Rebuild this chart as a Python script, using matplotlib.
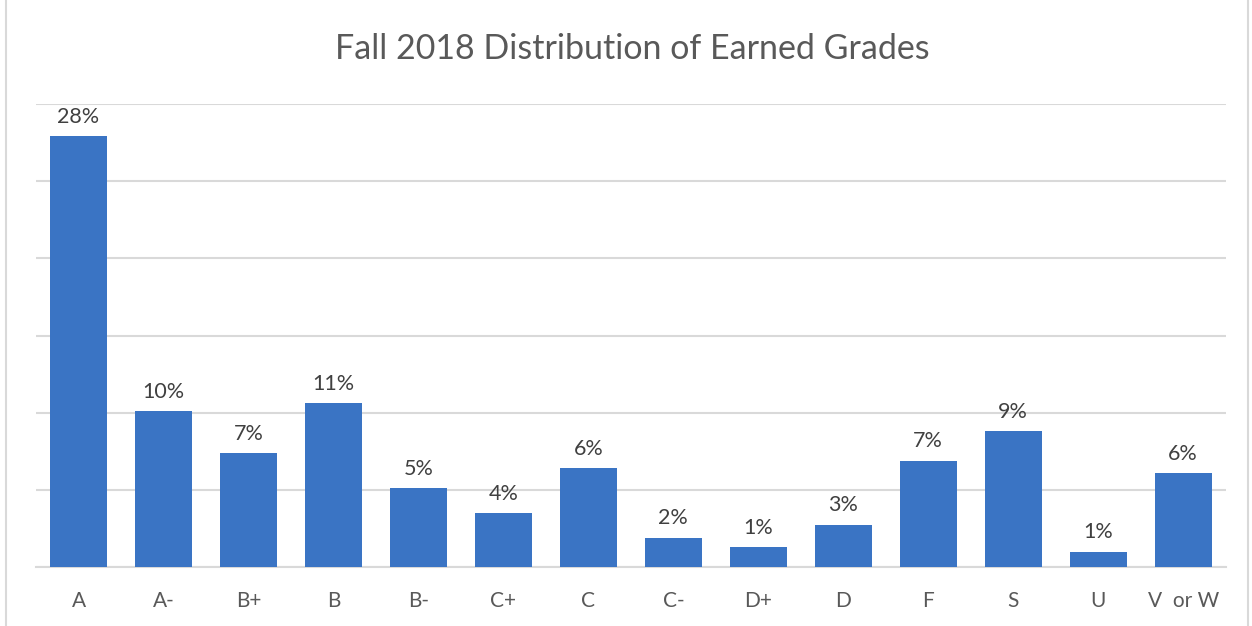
import matplotlib.pyplot as plt
from matplotlib.patches import Rectangle

# grades and share of students (percent)
grades = ["A", "A-", "B+", "B", "B-", "C+", "C", "C-", "D+", "D", "F", "S", "U", "V  or W"]
shares = [27.9, 10.1, 7.4, 10.6, 5.1, 3.5, 6.4, 1.9, 1.3, 2.75, 6.9, 8.8, 1.0, 6.1]
labels = ["28%", "10%", "7%", "11%", "5%", "4%", "6%", "2%", "1%", "3%", "7%", "9%", "1%", "6%"]

plt.rcParams['font.family'] = ['Lato', 'DejaVu Sans']
text_col = "#595959"

fig = plt.figure(figsize=(12.52, 6.26), dpi=100)
ax = fig.add_axes([0.0288, 0.0942, 0.9502, 0.7397])

x = range(len(grades))
bars = ax.bar(x, shares, width=0.67, color="#3A74C4", zorder=3)

for rect, lab in zip(bars, labels):
    ax.text(rect.get_x() + rect.get_width() / 2, rect.get_height() + 0.6, lab,
            ha="center", va="bottom", fontsize=15.5, color="#404040")

ax.set_xlim(-0.5, len(grades) - 0.5)
ax.set_ylim(0, 30)
ax.set_yticks(range(0, 31, 5))
ax.set_yticklabels([])
ax.tick_params(axis="y", length=0)
ax.set_xticks(list(x))
ax.set_xticklabels(grades, fontsize=15, color=text_col)
ax.tick_params(axis="x", length=0, pad=17)
ax.grid(axis="y", color="#D9D9D9", linewidth=1.5, zorder=0)
for side in ["top", "right", "left"]:
    ax.spines[side].set_visible(False)
ax.spines["bottom"].set_color("#D9D9D9")
ax.spines["bottom"].set_linewidth(1.5)

fig.text(0.505, 0.922, "Fall 2018 Distribution of Earned Grades", ha="center", va="center",
         fontsize=24.5, color=text_col)

# light frame around the chart
fig.patches.append(Rectangle((0.005, -0.01), 0.992, 1.02, transform=fig.transFigure,
                             fill=False, edgecolor="#D9D9D9", linewidth=1.5))

plt.savefig("out.png", dpi=100)
